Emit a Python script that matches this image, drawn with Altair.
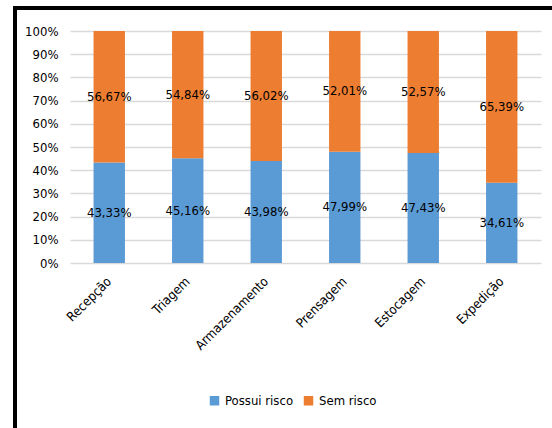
import altair as alt
import pandas as pd

etapas = ["Recepção", "Triagem", "Armazenamento", "Prensagem", "Estocagem", "Expedição"]
possui_risco = [43.33, 45.16, 43.98, 47.99, 47.43, 34.61]
sem_risco = [56.67, 54.84, 56.02, 52.01, 52.57, 65.39]
series = ["Possui risco", "Sem risco"]
cores = ["#5B9BD5", "#ED7D31"]
y_ticks = [0, 10, 20, 30, 40, 50, 60, 70, 80, 90, 100]

rows = []
for i, e in enumerate(etapas):
    rows.append({"etapa": e, "serie": series[0], "valor": possui_risco[i], "ordem": 0})
    rows.append({"etapa": e, "serie": series[1], "valor": sem_risco[i], "ordem": 1})
df = pd.DataFrame(rows)

FONT = "Liberation Sans Narrow, DejaVu Sans Condensed, sans-serif"

base = alt.Chart(df).transform_stack(
    stack="valor", groupby=["etapa"], as_=["y0", "y1"],
    sort=[alt.SortField("ordem", order="ascending")]
).transform_calculate(
    mid="(datum.y0 + datum.y1) / 2",
    rotulo="replace(format(datum.valor, '.2f'), '.', ',') + '%'"
)

xscale = alt.Scale(paddingInner=0.6, paddingOuter=0.3)
yscale = alt.Scale(domain=[0, 100], nice=False)

xaxis = alt.Axis(labelAngle=-45, labelAlign="right", labelBaseline="middle",
                 labelPadding=16, ticks=False, domain=False, grid=False,
                 labelFontSize=13, labelFont=FONT, labelColor="#000000")
yaxis = alt.Axis(values=y_ticks, labelExpr="datum.value + '%'",
                 ticks=False, domain=False, grid=True,
                 gridColor="#d9d9d9", gridWidth=1.5,
                 labelOverlap=False,
                 labelFontSize=13, labelFont=FONT, labelColor="#000000",
                 labelPadding=12)

bars = base.mark_bar().encode(
    x=alt.X("etapa:N", sort=etapas, title=None, scale=xscale, axis=xaxis),
    y=alt.Y("y0:Q", title=None, scale=yscale, axis=yaxis),
    y2="y1:Q",
    color=alt.Color("serie:N", scale=alt.Scale(domain=series, range=cores),
                    legend=alt.Legend(title=None, orient="none", direction="horizontal",
                                      legendX=138, legendY=363,
                                      symbolType="square", symbolSize=90,
                                      symbolStrokeWidth=0,
                                      labelFontSize=13, labelFont=FONT,
                                      labelColor="#000000", columnPadding=8)),
)

texts = base.mark_text(fontSize=13, font=FONT, color="#000000").encode(
    x=alt.X("etapa:N", sort=etapas, title=None, scale=xscale, axis=xaxis),
    y=alt.Y("mid:Q", title=None, scale=yscale, axis=yaxis),
    text="rotulo:N",
)

frame_top = alt.Chart(df).mark_rule(color="#000000", strokeWidth=4).encode(
    x=alt.value(-56), x2=alt.value(490), y=alt.value(-23)
)
frame_left = alt.Chart(df).mark_rule(color="#000000", strokeWidth=4).encode(
    x=alt.value(-55), y=alt.value(-25), y2=alt.value(400)
)

chart = alt.layer(bars, texts, frame_top, frame_left).properties(
    width=471, height=232,
    padding={"left": 70, "top": 31, "right": 11, "bottom": 165},
    autosize=alt.AutoSizeParams(type="none"),
    background="#ffffff",
).configure_view(stroke=None, strokeOpacity=0)

chart.save("out.html", embed_options={"renderer": "svg", "actions": False})
